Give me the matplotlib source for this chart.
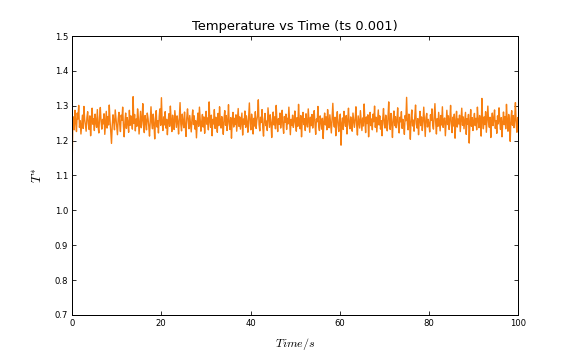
import numpy as np
import matplotlib
matplotlib.use('Agg')
import matplotlib.pyplot as plt

# temperature samples (reduced T*), evenly spaced over 0-100 s
temp = [
    1.105, 1.242, 1.268, 1.231, 1.287, 1.254, 1.226, 1.279, 1.262, 1.301, 1.238, 1.257, 1.219, 1.246, 1.273, 1.235, 1.298, 1.261, 1.244, 1.227,
    1.266, 1.283, 1.249, 1.232, 1.271, 1.214, 1.258, 1.293, 1.247, 1.263, 1.229, 1.276, 1.252, 1.238, 1.289, 1.241, 1.222, 1.268, 1.295, 1.255,
    1.233, 1.261, 1.248, 1.277, 1.218, 1.253, 1.284, 1.236, 1.269, 1.245, 1.302, 1.259, 1.227, 1.192, 1.243, 1.274, 1.256, 1.231, 1.288, 1.264,
    1.239, 1.217, 1.262, 1.281, 1.247, 1.226, 1.273, 1.258, 1.296, 1.242, 1.211, 1.254, 1.279, 1.235, 1.266, 1.251, 1.224, 1.287, 1.244, 1.271,
    1.258, 1.233, 1.326, 1.249, 1.275, 1.228, 1.262, 1.241, 1.291, 1.267, 1.219, 1.253, 1.284, 1.237, 1.259, 1.306, 1.246, 1.223, 1.272, 1.255,
    1.231, 1.279, 1.264, 1.242, 1.213, 1.258, 1.297, 1.251, 1.234, 1.276, 1.248, 1.205, 1.263, 1.286, 1.239, 1.257, 1.222, 1.269, 1.291, 1.244,
    1.323, 1.252, 1.229, 1.268, 1.245, 1.283, 1.236, 1.261, 1.217, 1.254, 1.277, 1.241, 1.299, 1.258, 1.226, 1.273, 1.249, 1.232, 1.286, 1.262,
    1.238, 1.271, 1.255, 1.219, 1.264, 1.309, 1.247, 1.228, 1.276, 1.253, 1.237, 1.282, 1.243, 1.212, 1.266, 1.291, 1.258, 1.234, 1.272, 1.249,
    1.225, 1.263, 1.288, 1.246, 1.271, 1.233, 1.257, 1.208, 1.252, 1.279, 1.241, 1.296, 1.262, 1.227, 1.254, 1.275, 1.239, 1.268, 1.221, 1.259,
    1.284, 1.247, 1.265, 1.231, 1.311, 1.256, 1.238, 1.273, 1.214, 1.261, 1.248, 1.289, 1.235, 1.267, 1.252, 1.224, 1.278, 1.243, 1.297, 1.258,
    1.236, 1.269, 1.251, 1.218, 1.263, 1.286, 1.244, 1.272, 1.229, 1.255, 1.303, 1.248, 1.232, 1.266, 1.207, 1.257, 1.281, 1.239, 1.264, 1.246,
    1.274, 1.227, 1.259, 1.292, 1.241, 1.268, 1.233, 1.255, 1.279, 1.216, 1.262, 1.247, 1.285, 1.238, 1.271, 1.253, 1.224, 1.266, 1.308, 1.249,
    1.231, 1.276, 1.257, 1.219, 1.264, 1.242, 1.283, 1.235, 1.258, 1.272, 1.317, 1.246, 1.228, 1.267, 1.252, 1.289, 1.237, 1.213, 1.261, 1.278,
    1.243, 1.256, 1.229, 1.294, 1.265, 1.238, 1.274, 1.251, 1.209, 1.259, 1.282, 1.245, 1.268, 1.234, 1.301, 1.255, 1.226, 1.263, 1.247, 1.279,
    1.236, 1.258, 1.287, 1.242, 1.221, 1.269, 1.253, 1.276, 1.232, 1.264, 1.248, 1.296, 1.257, 1.217, 1.261, 1.244, 1.273, 1.238, 1.254, 1.285,
    1.249, 1.227, 1.266, 1.241, 1.304, 1.256, 1.234, 1.272, 1.211, 1.258, 1.281, 1.246, 1.263, 1.229, 1.277, 1.252, 1.239, 1.291, 1.258, 1.224,
    1.267, 1.243, 1.275, 1.236, 1.259, 1.286, 1.248, 1.218, 1.262, 1.254, 1.298, 1.241, 1.229, 1.271, 1.257, 1.233, 1.264, 1.206, 1.253, 1.279,
    1.245, 1.268, 1.231, 1.289, 1.256, 1.237, 1.274, 1.249, 1.222, 1.263, 1.307, 1.252, 1.239, 1.267, 1.214, 1.258, 1.283, 1.244, 1.226, 1.261,
    1.276, 1.187, 1.248, 1.265, 1.232, 1.284, 1.255, 1.241, 1.272, 1.219, 1.259, 1.293, 1.246, 1.234, 1.268, 1.251, 1.227, 1.279, 1.257, 1.238,
    1.262, 1.297, 1.244, 1.216, 1.271, 1.253, 1.236, 1.286, 1.258, 1.229, 1.265, 1.242, 1.305, 1.257, 1.223, 1.268, 1.249, 1.274, 1.211, 1.256,
    1.281, 1.243, 1.262, 1.231, 1.276, 1.254, 1.299, 1.238, 1.267, 1.225, 1.259, 1.288, 1.245, 1.271, 1.233, 1.257, 1.214, 1.264, 1.292, 1.248,
    1.236, 1.273, 1.255, 1.228, 1.266, 1.311, 1.247, 1.232, 1.278, 1.251, 1.209, 1.262, 1.285, 1.243, 1.269, 1.237, 1.256, 1.294, 1.241, 1.222,
    1.267, 1.254, 1.283, 1.235, 1.261, 1.246, 1.218, 1.272, 1.257, 1.324, 1.249, 1.231, 1.276, 1.253, 1.204, 1.265, 1.288, 1.242, 1.259, 1.227,
    1.271, 1.302, 1.248, 1.236, 1.263, 1.217, 1.257, 1.284, 1.243, 1.268, 1.229, 1.254, 1.296, 1.251, 1.212, 1.266, 1.278, 1.239, 1.261, 1.247,
    1.225, 1.274, 1.258, 1.291, 1.244, 1.233, 1.269, 1.306, 1.252, 1.219, 1.263, 1.241, 1.281, 1.256, 1.228, 1.272, 1.245, 1.297, 1.238, 1.259,
    1.265, 1.214, 1.253, 1.287, 1.246, 1.271, 1.232, 1.258, 1.301, 1.249, 1.223, 1.267, 1.242, 1.276, 1.207, 1.255, 1.284, 1.239, 1.262, 1.248,
    1.273, 1.226, 1.259, 1.293, 1.244, 1.268, 1.234, 1.256, 1.281, 1.218, 1.263, 1.247, 1.275, 1.193, 1.252, 1.289, 1.241, 1.266, 1.229, 1.257,
    1.278, 1.243, 1.264, 1.231, 1.296, 1.258, 1.237, 1.272, 1.249, 1.213, 1.321, 1.255, 1.234, 1.268, 1.246, 1.283, 1.224, 1.261, 1.299, 1.252,
    1.238, 1.267, 1.209, 1.254, 1.279, 1.243, 1.262, 1.288, 1.235, 1.257, 1.221, 1.271, 1.248, 1.294, 1.256, 1.232, 1.266, 1.211, 1.253, 1.282,
    1.246, 1.269, 1.234, 1.304, 1.258, 1.227, 1.275, 1.251, 1.198, 1.263, 1.286, 1.244, 1.272, 1.237, 1.259, 1.309, 1.248, 1.224, 1.266, 1.241,
]
t_start, t_end = 0, 100
time = np.linspace(t_start, t_end, len(temp))

yticks = [0.7, 0.8, 0.9, 1.0, 1.1, 1.2, 1.3, 1.4, 1.5]
xticks = [0, 20, 40, 60, 80, 100]

plt.rcParams['mathtext.fontset'] = 'cm'

fig, ax = plt.subplots(figsize=(8, 5), dpi=72)
fig.subplots_adjust(left=0.125, right=0.9, top=0.9, bottom=0.125)

ax.plot(time, temp, color='#f77f10', linewidth=1.4)

ax.set_xlim(0, 100)
ax.set_ylim(0.7, 1.5)
ax.set_xticks(xticks)
ax.set_yticks(yticks)
ax.set_yticklabels([f'{v:.1f}' for v in yticks])
ax.tick_params(direction='in', top=True, right=True, length=4, labelsize=8.5, pad=4)
for s in ax.spines.values():
    s.set_linewidth(1.0)

ax.set_title('Temperature vs Time (ts 0.001)', fontsize=13)
ax.set_xlabel('$Time/s$', fontsize=12, labelpad=8)
ax.set_ylabel('$T^{*}$', fontsize=13, labelpad=10)

fig.savefig('out.png', dpi=72, facecolor='white')
